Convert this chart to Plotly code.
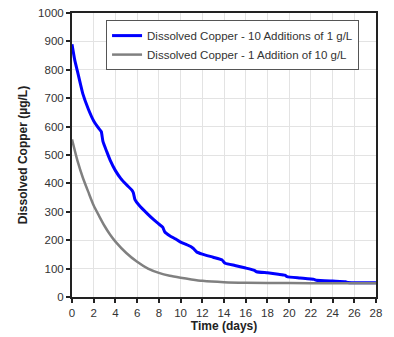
import plotly.graph_objects as go

# Time (days) and dissolved copper (µg/L)
t_blue = [0, 0.25, 0.5, 1, 1.5, 2, 2.5, 2.7, 2.85, 3.2, 3.5, 4, 4.5, 5, 5.5, 5.65, 5.8,
          6.2, 7, 7.5, 8, 8.35, 8.55, 9, 9.5, 10, 10.5, 11, 11.2, 11.5, 12, 13, 13.8,
          14.1, 15, 16, 16.8, 17, 18, 19, 19.6, 19.8, 21, 22.3, 22.5, 24, 25.2, 25.4, 28]
v_blue = [890, 835, 795, 715, 662, 620, 592, 582, 548, 512, 483, 445, 417, 396, 377, 367, 343,
          322, 291, 273, 257, 246, 229, 216, 205, 193, 185, 176, 170, 158, 151, 140, 131,
          119, 111, 102, 94, 89, 85, 80, 77, 72, 67, 62, 59, 56, 54, 51, 50]

t_gray = [0, 0.5, 1, 1.5, 2, 2.5, 3, 3.5, 4, 5, 6, 7, 8, 9, 10, 11, 12, 14, 16, 20, 24, 28]
v_gray = [555, 480, 420, 370, 322, 285, 250, 220, 195, 155, 124, 100, 85, 75, 68, 62, 57,
          52, 50, 49, 48, 48]

name_blue = "Dissolved Copper - 10 Additions of 1 g/L"
name_gray = "Dissolved Copper - 1 Addition of 10 g/L"

x_ticks = list(range(0, 29, 2))
y_ticks = list(range(0, 1001, 100))

fig = go.Figure()
fig.add_trace(go.Scatter(x=t_blue, y=v_blue, mode="lines", name=name_blue,
                         line=dict(color="#0000ff", width=3, shape="spline", smoothing=0.4)))
fig.add_trace(go.Scatter(x=t_gray, y=v_gray, mode="lines", name=name_gray,
                         line=dict(color="#808080", width=2.5, shape="spline", smoothing=0.6)))

font = "Liberation Sans, Arial, sans-serif"
fig.update_layout(
    width=394, height=337,
    margin=dict(l=72, r=18, t=13, b=40, autoexpand=False),
    paper_bgcolor="white", plot_bgcolor="white",
    font=dict(family=font, size=11.5, color="#333333"),
    showlegend=True,
    legend=dict(x=0.112, y=0.975, xanchor="left", yanchor="top",
                bgcolor="white", bordercolor="#555555", borderwidth=1,
                font=dict(family=font, size=11.5, color="#333333"),
                itemwidth=30, tracegroupgap=0),
)
fig.update_xaxes(range=[0, 28], tickvals=x_ticks, ticks="outside", ticklen=4,
                 tickcolor="#222222", tickwidth=1.5, automargin=False,
                 showgrid=True, gridcolor="#e3e3e3", gridwidth=1,
                 showline=True, linecolor="#222222", linewidth=2, mirror=True,
                 zeroline=False,
                 title=dict(text="<b>Time (days)</b>", font=dict(size=12, color="#222222"), standoff=4))
fig.update_yaxes(range=[0, 1000], tickvals=y_ticks, ticks="outside", ticklen=4,
                 tickcolor="#222222", tickwidth=1.5, automargin=False,
                 showgrid=True, gridcolor="#e3e3e3", gridwidth=1,
                 showline=True, linecolor="#222222", linewidth=2, mirror=True,
                 zeroline=False,
                 title=dict(text="<b>Dissolved Copper (µg/L)</b>", font=dict(size=12, color="#222222"), standoff=8))

fig.write_html("out.html")
